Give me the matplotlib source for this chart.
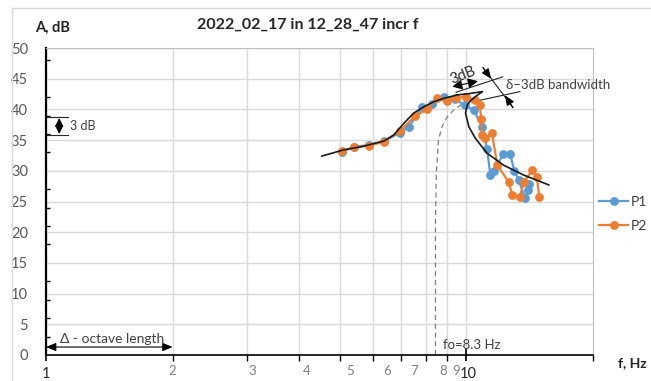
import matplotlib
matplotlib.use('Agg')
import matplotlib.pyplot as plt
from matplotlib.lines import Line2D

plt.rcParams['font.family'] = ['Lato', 'DejaVu Sans']

# ---------------- data ----------------
title = "2022_02_17 in 12_28_47 incr f"
y_label = "A, dB"
x_label = "f, Hz"

f_p1 = [5.05, 5.4, 5.85, 6.35, 6.95, 7.3, 7.85, 8.3, 8.85, 9.4, 9.9, 10.4,
        10.9, 11.2, 11.4, 11.6, 12.25, 12.7, 13.0, 13.3, 13.8, 14.0, 14.1]
A_p1 = [33.1, 33.9, 34.2, 34.8, 36.2, 37.2, 40.4, 40.8, 42.0, 41.7, 40.7, 39.9,
        37.2, 33.5, 29.3, 29.9, 32.8, 32.8, 30.0, 28.5, 25.5, 26.9, 27.8]

f_p2 = [5.05, 5.4, 5.85, 6.35, 6.95, 7.55, 8.05, 8.5, 9.0, 9.45, 9.95, 10.5,
        10.75, 10.85, 10.9, 11.1, 11.5, 11.85, 12.6, 12.85, 13.4, 13.7, 14.35, 14.7, 14.9]
A_p2 = [33.3, 33.8, 34.1, 34.7, 36.5, 38.9, 40.0, 41.8, 41.4, 41.8, 42.1, 41.5,
        40.7, 38.5, 35.8, 35.3, 36.1, 30.9, 28.2, 26.1, 25.8, 28.2, 30.1, 29.0, 25.8]

# hand-drawn resonance (fold-over) curve
fit_f = [4.53, 5.1, 5.69, 6.36, 6.71, 7.09, 7.49, 7.91, 8.36, 8.83, 9.5, 10.22,
         10.92, 10.56, 10.22, 10.04, 9.95, 10.13, 10.5, 11.2, 12.27, 13.69, 15.7]
fit_A = [32.4, 33.4, 34.0, 34.85, 35.8, 37.7, 39.4, 40.4, 41.25, 41.8, 42.35, 42.6,
         42.9, 42.2, 41.4, 40.7, 39.4, 37.2, 35.3, 32.85, 30.9, 29.3, 27.7]

# dashed branch towards fo
dash_f = [8.44, 8.44, 8.48, 8.58, 8.75, 9.0, 9.33, 9.68, 10.0]
dash_A = [0.0, 21.5, 29.6, 35.0, 37.2, 38.8, 39.9, 40.7, 41.4]

f0_text = "fo=8.3 Hz"
y_ticks = [0, 5, 10, 15, 20, 25, 30, 35, 40, 45, 50]
y_minor_ticks = [0, 3, 6, 9, 12, 15, 18, 21, 24, 27, 30, 33, 36, 39, 42, 45, 48]
x_grid = [1, 2, 3, 4, 5, 6, 7, 8, 9, 10]
x_labels = ["1", "2", "3", "4", "5", "6", "7", "8", "9", "10"]
x_label_shift_px = [0, 0, 6, 8, 10, 14, 13, 17, 9, 2]

# ---------------- figure ----------------
W, H = 651, 381
fig = plt.figure(figsize=(W / 100, H / 100), dpi=100)
ax = fig.add_axes([46 / W, 1 - 355 / H, (593 - 46) / W, (355 - 48) / H])
ax.set_xscale('log')
ax.set_xlim(1, 20)
ax.set_ylim(0, 50)

blue = '#5B9BD5'
orange = '#ED7D31'
grid_c = '#D9D9D9'
tick_c = '#595959'

# outer chart border
fig.add_artist(Line2D([12 / W, 1], [1 - 8 / H, 1 - 8 / H], color=grid_c, lw=1))
fig.add_artist(Line2D([12 / W, 12 / W], [1 - 8 / H, 0], color=grid_c, lw=1))

# grid
for v in y_ticks:
    ax.axhline(v, color=grid_c, lw=1, zorder=0)
for v in x_grid:
    ax.axvline(v, color=grid_c, lw=1, zorder=0)

# spines
ax.spines['left'].set_color('black'); ax.spines['left'].set_linewidth(1.6)
ax.spines['bottom'].set_color('black'); ax.spines['bottom'].set_linewidth(1.2)
for s in ['top', 'right']:
    ax.spines[s].set_color('#BFBFBF'); ax.spines[s].set_linewidth(0.8)

# y ticks
ax.set_yticks(y_ticks)
ax.set_yticklabels([str(v) for v in y_ticks])
ax.set_yticks(y_minor_ticks, minor=True)
ax.tick_params(axis='y', which='major', length=0, pad=13, labelsize=10.5, labelcolor=tick_c)
ax.tick_params(axis='y', which='minor', direction='in', length=3, width=1, color='black')

# x ticks
ax.set_xticks([1, 10])
ax.set_xticks([2, 3, 4, 5, 6, 7, 8, 9, 20], minor=True)
ax.set_xticklabels([])
ax.set_xticklabels([], minor=True)
ax.tick_params(axis='x', which='major', direction='inout', length=8, width=1.2, color='black')
ax.tick_params(axis='x', which='minor', direction='out', length=4, width=1, color='black')
for v, lab, dx in zip(x_grid, x_labels, x_label_shift_px):
    big = lab in ("1", "10")
    ax.annotate(lab, xy=(v, 0), xycoords=('data', 'axes fraction'),
                xytext=(dx * 0.72, -19 * 0.72 if big else -16 * 0.72),
                textcoords='offset points', ha='center', va='center',
                fontsize=10.5 if big else 9.5,
                color='#262626' if big else '#7F7F7F')

# series
ax.plot(f_p1, A_p1, color=blue, lw=1.6, marker='o', ms=5.3, label='P1', zorder=3)
ax.plot(f_p2, A_p2, color=orange, lw=1.6, marker='o', ms=5.3, label='P2', zorder=4)

# fitted curve and dashed branch
ax.plot(fit_f, fit_A, color='#1A1A1A', lw=1.2, zorder=5)
ax.plot(dash_f, dash_A, color='#7F7F7F', lw=0.9, ls=(0, (4, 3)), zorder=2)

# titles
fig.text(308 / W, 1 - 25 / H, title, ha='center', va='center',
         fontsize=11.5, fontweight='bold', color='#262626')
fig.text(35 / W, 1 - 28 / H, y_label, ha='left', va='center',
         fontsize=10.5, fontweight='bold', color='#262626')
fig.text(618 / W, 1 - 363 / H, x_label, ha='left', va='center',
         fontsize=10, fontweight='bold', color='#262626')

# legend
ax.legend(loc='upper left', bbox_to_anchor=(599 / W, 1 - 196 / H),
          bbox_transform=fig.transFigure, frameon=False, handlelength=2.1,
          handletextpad=0.15, labelspacing=0.85, fontsize=10, borderpad=0,
          borderaxespad=0, labelcolor='#404040')

# ---- annotations ----
ann_c = '#262626'
# 3 dB marker at left
ax.plot([1, 1.13], [38.8, 38.8], color=ann_c, lw=0.8)
ax.plot([1, 1.13], [35.8, 35.8], color=ann_c, lw=0.8)
ax.annotate('', xy=(1.075, 38.6), xytext=(1.075, 36.0),
            arrowprops=dict(arrowstyle='<|-|>,head_length=0.5,head_width=0.25',
                            color='black', lw=0.8, shrinkA=0, shrinkB=0))
ax.text(1.14, 37.3, '3 dB', ha='left', va='center', fontsize=9, color='#404040')

# octave length
ax.annotate('', xy=(1.0, 1.3), xytext=(2.0, 1.3),
            arrowprops=dict(arrowstyle='<|-|>,head_length=0.6,head_width=0.25',
                            color='black', lw=0.8, shrinkA=0, shrinkB=0))
ax.text(1.44, 2.6, 'Δ - octave length', ha='center', va='center', fontsize=10,
        color='#404040')

# fo label
ax.text(8.8, 1.6, f0_text, ha='left', va='center', fontsize=9.5, color='#404040')

# bandwidth dimension lines
ax.plot([9.45, 12.2], [42.8, 45.3], color=ann_c, lw=0.8)
ax.plot([10.3, 13.4], [41.2, 42.9], color=ann_c, lw=0.8)
ax.annotate('', xy=(11.45, 45.0), xytext=(10.95, 46.8),
            arrowprops=dict(arrowstyle='-|>,head_length=0.6,head_width=0.25',
                            color='black', lw=0.8, shrinkA=0, shrinkB=0))
ax.annotate('', xy=(12.35, 42.3), xytext=(12.9, 40.3),
            arrowprops=dict(arrowstyle='-|>,head_length=0.6,head_width=0.25',
                            color='black', lw=0.8, shrinkA=0, shrinkB=0))
ax.plot([10.95, 12.9], [46.8, 40.3], color=ann_c, lw=0.8)
ax.text(12.4, 43.9, 'δ–3dB bandwidth', ha='left', va='center', fontsize=9.5,
        color='#404040')

# 3dB dimension near peak
ax.annotate('', xy=(9.25, 43.7), xytext=(10.65, 44.6),
            arrowprops=dict(arrowstyle='<|-|>,head_length=0.6,head_width=0.3',
                            color='black', lw=0.8, shrinkA=0, shrinkB=0))
ax.text(9.83, 45.6, '3dB', ha='center', va='center', fontsize=10.5,
        rotation=22, color='#262626')

fig.savefig('out.png', dpi=100)
